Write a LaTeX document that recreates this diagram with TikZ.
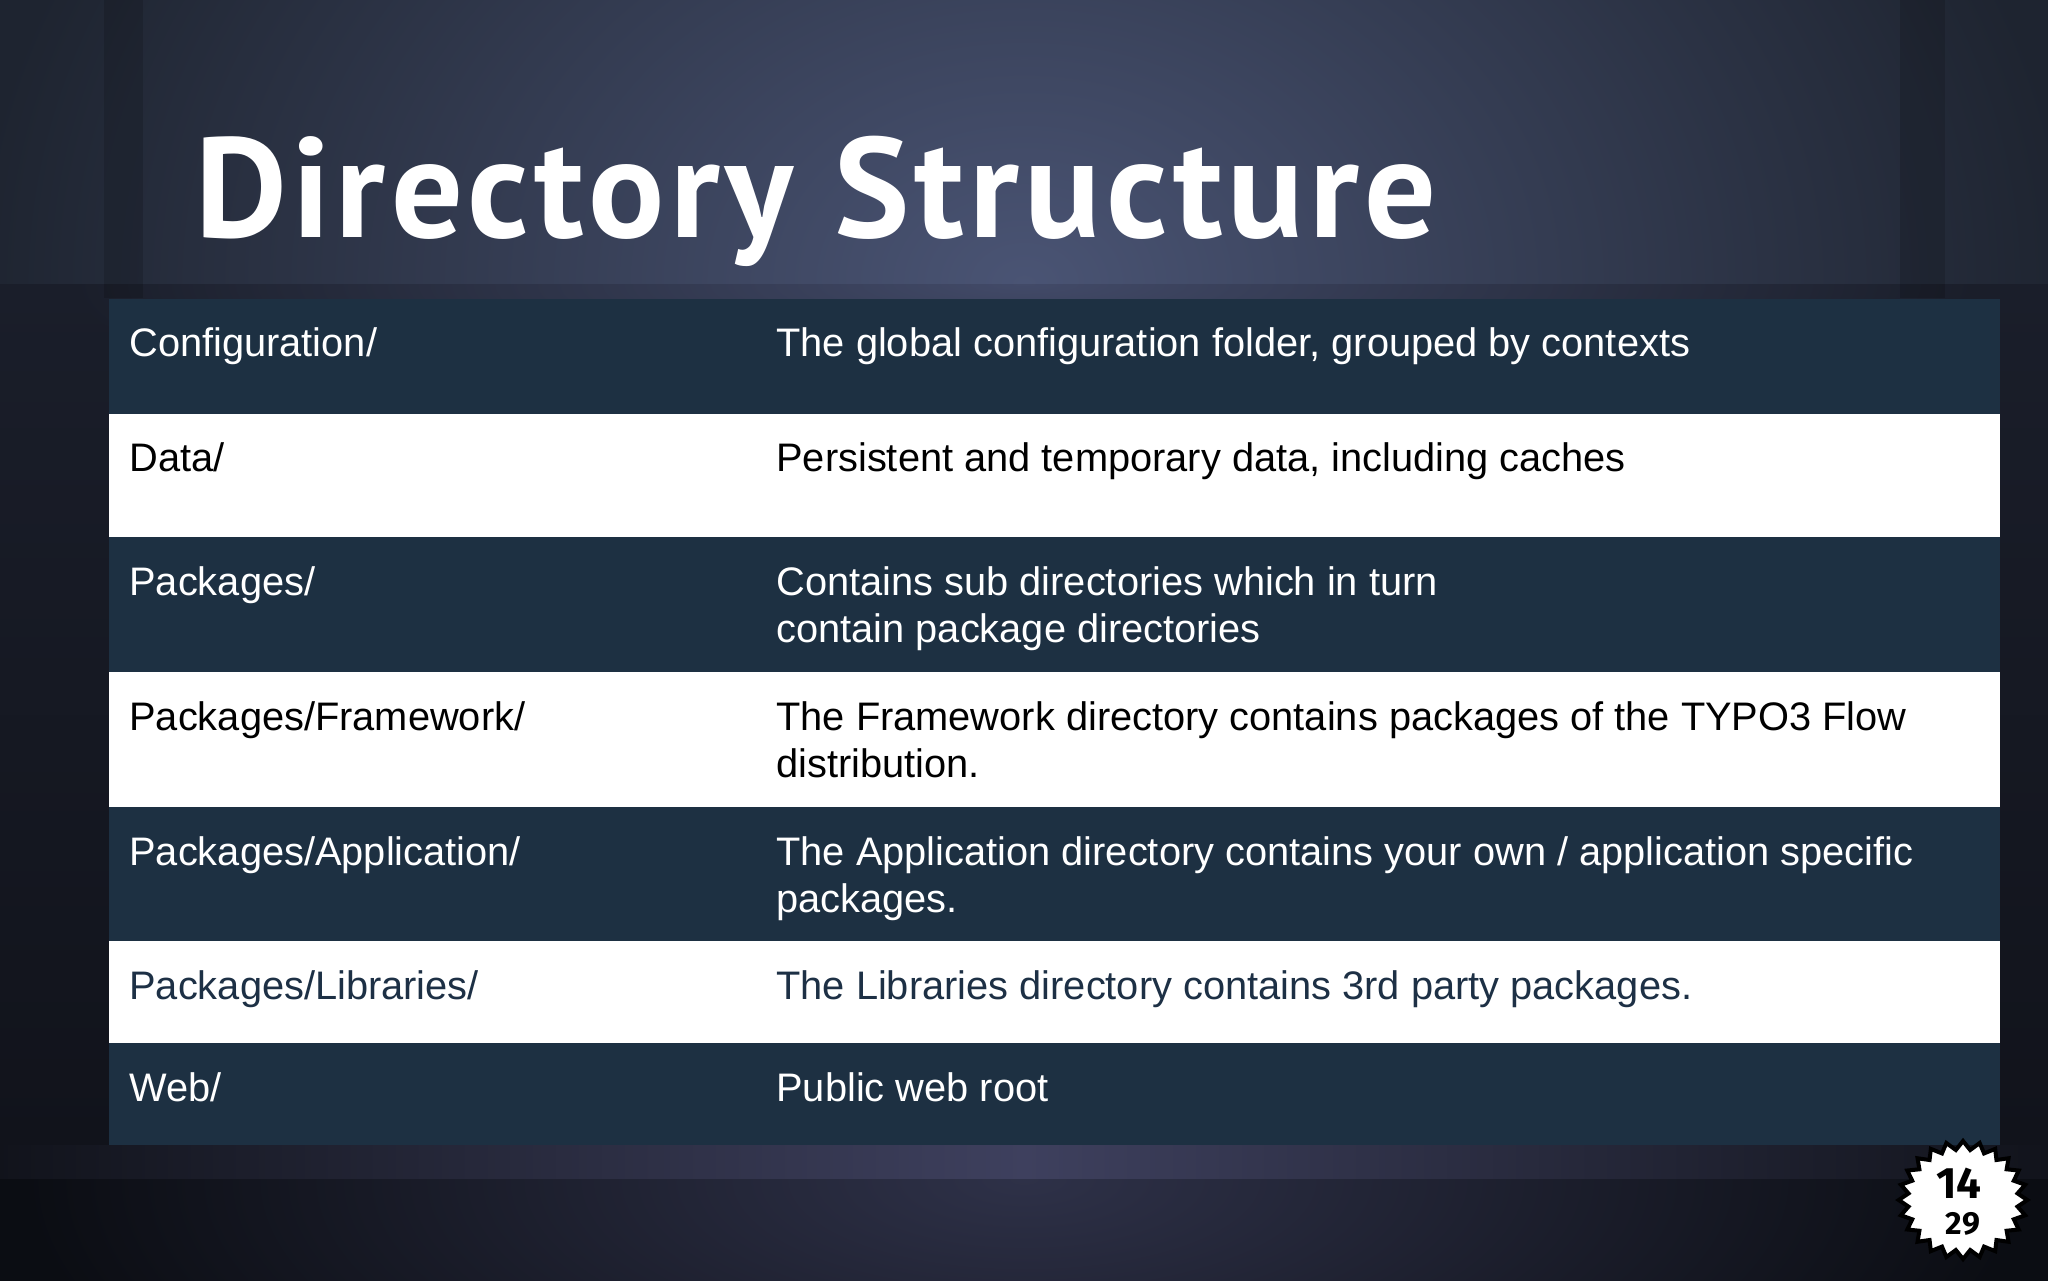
\documentclass[tikz,border=0pt]{standalone}
\usepackage{fontspec}
\usetikzlibrary{shapes.geometric}
\setmainfont{Liberation Sans}
\newfontfamily\titlefont[LetterSpace=3.7]{PT Sans}
\newfontfamily\badgefont{Fira Sans}
\definecolor{rowdark}{HTML}{1D3042}
\definecolor{rowtext}{HTML}{1D3045}
\definecolor{topglow}{RGB}{74,84,116}
\definecolor{topedge}{RGB}{30,36,48}
\definecolor{midglow}{RGB}{66,74,104}
\definecolor{midedge}{RGB}{26,30,42}
\definecolor{lowedge}{RGB}{17,19,27}
\definecolor{bandglow}{RGB}{62,64,94}
\definecolor{footglow}{RGB}{46,49,72}
\definecolor{footedge}{RGB}{11,13,19}
\tikzset{
  cell/.style={anchor=base west, inner sep=0pt, align=left, font=\fontsize{19.9}{23.5}\selectfont},
  celllight/.style={cell, text=white},
  cellblack/.style={cell, text=black},
  cellblue/.style={cell, text=rowtext},
  rowfill/.style={fill=rowdark}
}
\begin{document}
\begin{tikzpicture}[x=0.5pt,y=-0.5pt]
    \useasboundingbox (0,0) rectangle (2048,1280);
    \begin{scope}
        \clip (-4,-4) rectangle (2052,284);
        \fill[topedge] (-4,-4) rectangle (2052,284);
        \shade[inner color=topglow, outer color=topedge] (1024,284) ellipse (1050 and 800);
    \end{scope}
    \begin{scope}
        \clip (-4,284) rectangle (2052,1145);
        \shade[top color=midedge, bottom color=lowedge] (-4,284) rectangle (2052,1145);
        \shade[inner color=midglow, outer color=midedge] (1024,284) ellipse (950 and 160);
    \end{scope}
    \shade[left color=lowedge, right color=lowedge, middle color=bandglow] (-4,1145) rectangle (2052,1179);
    \begin{scope}
        \clip (-4,1179) rectangle (2052,1284);
        \fill[footedge] (-4,1179) rectangle (2052,1284);
        \shade[inner color=footglow, outer color=footedge] (1024,1179) ellipse (1000 and 380);
    \end{scope}
    \fill[black, opacity=0.14] (104,-4) rectangle (143,298);
    \fill[black, opacity=0.14] (1900,-4) rectangle (1945,298);

    \node[anchor=base west, inner sep=0pt, text=white, font=\titlefont\bfseries\fontsize{71}{80}\selectfont] (title) at (195,237) {Directory Structure};

    \fill[rowfill] (109,299) rectangle (2000,414);
    \fill[white] (109,414) rectangle (2000,537);
    \fill[rowfill] (109,537) rectangle (2000,672);
    \fill[white] (109,672) rectangle (2000,807);
    \fill[rowfill] (109,807) rectangle (2000,941);
    \fill[white] (109,941) rectangle (2000,1043);
    \fill[rowfill] (109,1043) rectangle (2000,1145);

    \node[celllight] (conf) at (129,356) {Configuration/};
    \node[celllight] (confinfo) at (776,356) {The global configuration folder, grouped by contexts};
    \node[cellblack] (data) at (129,471) {Data/};
    \node[cellblack] (datainfo) at (776,471) {Persistent and temporary data, including caches};
    \node[celllight] (pack) at (129,595) {Packages/};
    \node[celllight] (packinfo) at (776,642) {Contains sub directories which in turn\\contain package directories};
    \node[cellblack] (frame) at (129,730) {Packages/Framework/};
    \node[cellblack] (frameinfo) at (776,777) {The Framework directory contains packages of the TYPO3 Flow\\distribution.};
    \node[celllight] (appl) at (129,865) {Packages/Application/};
    \node[celllight] (applinfo) at (776,912) {The Application directory contains your own / application specific\\packages.};
    \node[cellblue] (libs) at (129,999) {Packages/Libraries/};
    \node[cellblue] (libsinfo) at (776,999) {The Libraries directory contains 3rd party packages.};
    \node[celllight] (web) at (129,1101) {Web/};
    \node[celllight] (webinfo) at (776,1101) {Public web root};

    \node[star, star points=24, star point ratio=1.17, minimum size=59pt, inner sep=0pt, fill=white, draw=black, line width=2pt, xscale=1.09, transform shape] (badge) at (1963,1200) {};
    \node[inner sep=0pt, font=\badgefont\bfseries\fontsize{22}{24}\selectfont] (chapter) at (1959,1183) {14};
    \node[inner sep=0pt, font=\badgefont\bfseries\fontsize{16}{18}\selectfont] (total) at (1963,1224) {29};
\end{tikzpicture}
\end{document}
